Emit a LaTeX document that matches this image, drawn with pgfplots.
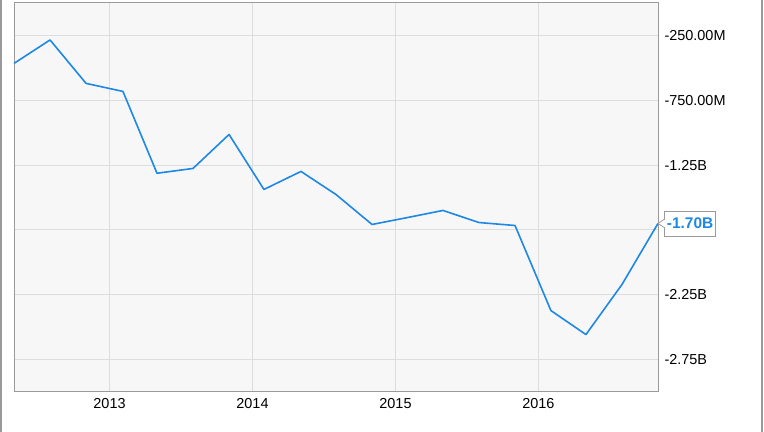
\documentclass[border=0pt]{standalone}
\usepackage{pgfplots}
\pgfplotsset{compat=1.18}
\usepackage{fontspec}
\setmainfont{Liberation Sans}
\definecolor{bg}{HTML}{F7F7F7}
\definecolor{gridc}{HTML}{DDDDDD}
\definecolor{framec}{HTML}{9A9A9A}
\definecolor{linec}{HTML}{1E88E5}
\begin{document}
\begin{tikzpicture}
\begin{axis}[
  scale only axis, width=644bp, height=389bp,
  xmin=2012.332, xmax=2016.836, ymin=-3.0, ymax=0.0,
  axis background/.style={fill=bg},
  axis line style={framec, line width=1bp},
  grid=major, major grid style={gridc, line width=1bp},
  xtick={2013,2014,2015,2016}, xticklabels={2013,2014,2015,2016},
  ytick={-2.75,-2.25,-1.75,-1.25,-0.75,-0.25},
  yticklabels={-2.75B,-2.25B,,-1.25B,-750.00M,-250.00M},
  yticklabel pos=right,
  major tick length=0pt,
  tick label style={font=\fontsize{14.5}{16}\selectfont, black},
  xticklabel style={yshift=-3bp},
  yticklabel style={anchor=west, xshift=3bp},
  clip=false,
]
\addplot[linec, line width=1.6bp, line join=round] coordinates {
(2012.332,-0.466) (2012.584,-0.285) (2012.836,-0.620) (2013.094,-0.682)
(2013.332,-1.313) (2013.584,-1.276) (2013.836,-1.014) (2014.080,-1.438)
(2014.339,-1.299) (2014.584,-1.477) (2014.836,-1.708) (2015.087,-1.654)
(2015.332,-1.600) (2015.584,-1.693) (2015.836,-1.716) (2016.087,-2.372)
(2016.332,-2.557) (2016.584,-2.171) (2016.836,-1.700)
};
\node[draw=framec, fill=white, anchor=west, inner xsep=2.5bp, inner ysep=0bp, minimum height=25bp,
  font=\bfseries\fontsize{15.5}{17}\selectfont, text=linec, xshift=6bp, line width=0.8bp]
  (lab) at (axis cs:2016.836,-1.70) {-1.70B};
\fill[white] ([yshift=-4bp]lab.west) -- ([xshift=-6bp]lab.west) -- ([yshift=4bp]lab.west) -- cycle;
\draw[white, line width=1.2bp] ([yshift=-3.4bp]lab.west) -- ([yshift=3.4bp]lab.west);
\draw[framec, line width=0.8bp] ([yshift=-4bp]lab.west) -- ([xshift=-6bp]lab.west) -- ([yshift=4bp]lab.west);
\end{axis}
\draw[framec, line width=1.2bp] (-13bp,-40bp) -- (-13bp,392bp);
\draw[framec, line width=1.2bp] (748bp,-40bp) -- (748bp,392bp);
\pgfresetboundingbox
\path[use as bounding box] (-14bp,-40bp) rectangle (750bp,392bp);
\end{tikzpicture}
\end{document}
